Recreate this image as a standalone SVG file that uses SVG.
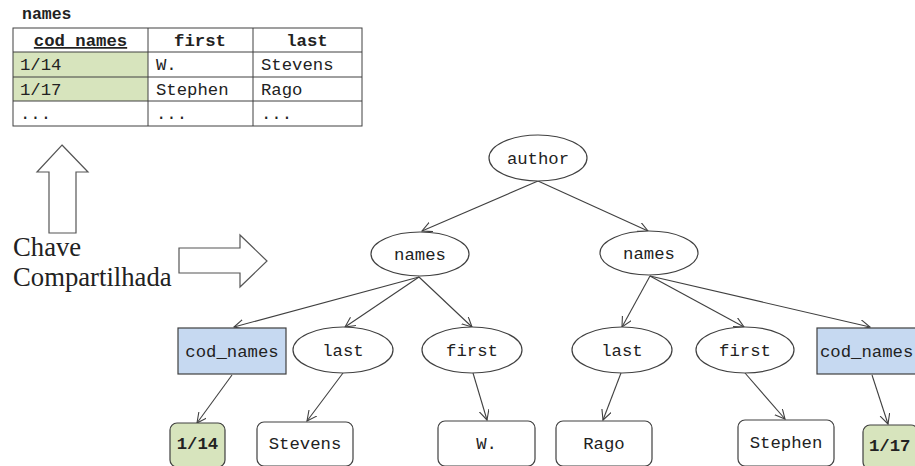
<svg xmlns="http://www.w3.org/2000/svg" width="915" height="466" viewBox="0 0 915 466">
  <style>
    .mono { font-family: "Liberation Mono", "Courier New", monospace; font-size: 17.3px; fill: #222; }
    .bold { font-weight: bold; }
    .mid { text-anchor: middle; }
    .serif { font-family: "Liberation Serif", "Times New Roman", serif; font-size: 26.7px; fill: #222; }
    .grid { stroke: #404040; stroke-width: 1; fill: none; }
    .key { fill: #d7e4bd; }
    .shape { fill: #fff; stroke: #404040; stroke-width: 1.2; }
    .attr { fill: #c6d9f1; stroke: #404040; stroke-width: 1.2; }
    .leaf { fill: #fff; stroke: #404040; stroke-width: 1.2; }
    .leafkey { fill: #d7e4bd; stroke: #404040; stroke-width: 1.2; }
    .edge { stroke: #404040; stroke-width: 1.1; fill: none; marker-end: url(#vhead); }
    .block { fill: #fff; stroke: #555; stroke-width: 1.2; }
  </style>
  <defs>
    <marker id="vhead" markerUnits="userSpaceOnUse" markerWidth="12" markerHeight="12" refX="10" refY="5" orient="auto" viewBox="0 0 12 12">
      <path d="M0,0 L10,5 L0,10" fill="none" stroke="#404040" stroke-width="1.1"/>
    </marker>
  </defs>

  <rect width="915" height="466" fill="#fff"/>

  <!-- relational table -->
  <g id="table">
    <text x="22" y="19" class="mono bold" style="font-size:16.5px">names</text>
    <rect x="13" y="52" width="135" height="49" class="key"/>
    <rect x="13" y="28" width="349" height="98" class="grid"/>
    <line x1="13" y1="52" x2="362" y2="52" class="grid"/>
    <line x1="13" y1="77" x2="362" y2="77" class="grid"/>
    <line x1="13" y1="101" x2="362" y2="101" class="grid"/>
    <line x1="148" y1="28" x2="148" y2="126" class="grid"/>
    <line x1="253" y1="28" x2="253" y2="126" class="grid"/>
    <text x="80.5" y="46" class="mono bold mid" text-decoration="underline">cod names</text>
    <text x="200" y="46" class="mono bold mid">first</text>
    <text x="307" y="46" class="mono bold mid">last</text>
    <text x="20" y="70" class="mono">1/14</text>
    <text x="156" y="70" class="mono">W.</text>
    <text x="261" y="70" class="mono">Stevens</text>
    <text x="20" y="95" class="mono">1/17</text>
    <text x="156" y="95" class="mono">Stephen</text>
    <text x="261" y="95" class="mono">Rago</text>
    <text x="20" y="119" class="mono">...</text>
    <text x="156" y="119" class="mono">...</text>
    <text x="261" y="119" class="mono">...</text>
  </g>

  <!-- shared key callout -->
  <g id="shared-key">
    <polygon points="62,145 88,172 76,172 76,233 49,233 49,172 37,172" class="block"/>
    <text x="13" y="256" class="serif">Chave</text>
    <text x="13" y="286" class="serif">Compartilhada</text>
    <polygon points="179,248 240,248 240,235 267,261 240,287 240,273 179,273" class="block"/>
  </g>

  <!-- connectors -->
  <g id="connectors">
    <line x1="538" y1="181" x2="422" y2="231" class="edge"/>
    <line x1="538" y1="181" x2="648" y2="231" class="edge"/>
    <line x1="419" y1="277" x2="234" y2="327" class="edge"/>
    <line x1="419" y1="277" x2="345" y2="327" class="edge"/>
    <line x1="419" y1="277" x2="472" y2="327" class="edge"/>
    <line x1="650" y1="276" x2="622" y2="327" class="edge"/>
    <line x1="650" y1="276" x2="744" y2="327" class="edge"/>
    <line x1="650" y1="276" x2="870" y2="327" class="edge"/>
    <line x1="232" y1="375" x2="197" y2="423" class="edge"/>
    <line x1="343" y1="373" x2="307" y2="421" class="edge"/>
    <line x1="473" y1="373" x2="487" y2="420" class="edge"/>
    <line x1="621" y1="373" x2="603" y2="420" class="edge"/>
    <line x1="745" y1="373" x2="785" y2="419" class="edge"/>
    <line x1="872" y1="375" x2="888" y2="424" class="edge"/>
  </g>

  <!-- element nodes -->
  <g id="author">
    <ellipse cx="538" cy="158" rx="49" ry="23" class="shape"/>
    <text x="538" y="164" class="mono mid">author</text>
  </g>
  <g id="names-left">
    <ellipse cx="420" cy="254" rx="49" ry="22" class="shape"/>
    <text x="420" y="260" class="mono mid">names</text>
  </g>
  <g id="names-right">
    <ellipse cx="649" cy="253" rx="49" ry="22" class="shape"/>
    <text x="649" y="259" class="mono mid">names</text>
  </g>

  <g id="cod-names-left">
    <rect x="178" y="328" width="108" height="46" class="attr"/>
    <text x="232" y="357" class="mono mid">cod_names</text>
  </g>
  <g id="last-left">
    <ellipse cx="343" cy="350" rx="50" ry="23" class="shape"/>
    <text x="343" y="356" class="mono mid">last</text>
  </g>
  <g id="first-left">
    <ellipse cx="472" cy="350" rx="50" ry="23" class="shape"/>
    <text x="472" y="356" class="mono mid">first</text>
  </g>
  <g id="last-right">
    <ellipse cx="622" cy="350" rx="50" ry="23" class="shape"/>
    <text x="622" y="356" class="mono mid">last</text>
  </g>
  <g id="first-right">
    <ellipse cx="745" cy="350" rx="49" ry="23" class="shape"/>
    <text x="745" y="356" class="mono mid">first</text>
  </g>
  <g id="cod-names-right">
    <rect x="817" y="328" width="108" height="46" class="attr"/>
    <text x="820" y="357" class="mono">cod_names</text>
  </g>

  <!-- value leaves -->
  <g id="val-1-14">
    <rect x="170" y="423" width="55" height="44" rx="7" class="leafkey"/>
    <text x="197.5" y="449" class="mono mid bold">1/14</text>
  </g>
  <g id="val-stevens">
    <rect x="257" y="422" width="96" height="44" rx="7" class="leaf"/>
    <text x="305" y="449" class="mono mid">Stevens</text>
  </g>
  <g id="val-w">
    <rect x="438" y="421" width="97" height="45" rx="7" class="leaf"/>
    <text x="486.5" y="449" class="mono mid">W.</text>
  </g>
  <g id="val-rago">
    <rect x="556" y="421" width="96" height="45" rx="7" class="leaf"/>
    <text x="604" y="449" class="mono mid">Rago</text>
  </g>
  <g id="val-stephen">
    <rect x="738" y="420" width="96" height="46" rx="7" class="leaf"/>
    <text x="786" y="448" class="mono mid">Stephen</text>
  </g>
  <g id="val-1-17">
    <rect x="863" y="425" width="55" height="44" rx="7" class="leafkey"/>
    <text x="869" y="451" class="mono bold">1/17</text>
  </g>
</svg>
